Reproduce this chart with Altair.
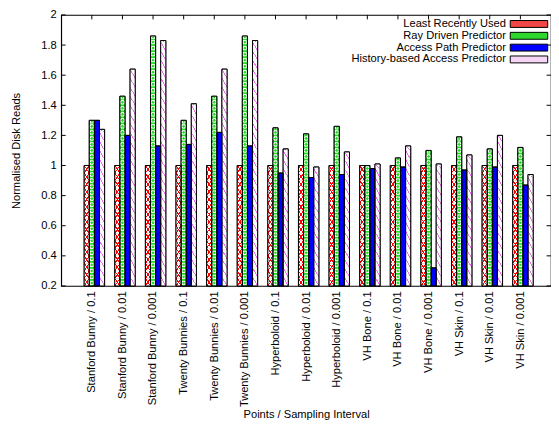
import json
import altair as alt
import pandas as pd

categories = [
    "Stanford Bunny / 0.1", "Stanford Bunny / 0.01", "Stanford Bunny / 0.001",
    "Twenty Bunnies / 0.1", "Twenty Bunnies / 0.01", "Twenty Bunnies / 0.001",
    "Hyperboloid / 0.1", "Hyperboloid / 0.01", "Hyperboloid / 0.001",
    "VH Bone / 0.1", "VH Bone / 0.01", "VH Bone / 0.001",
    "VH Skin / 0.1", "VH Skin / 0.01", "VH Skin / 0.001",
]
series = ["Least Recently Used", "Ray Driven Predictor",
          "Access Path Predictor", "History-based Access Predictor"]
lru = [1.00, 1.00, 1.00, 1.00, 1.00, 1.00, 1.00, 1.00, 1.00, 1.00, 1.00, 1.00, 1.00, 1.00, 1.00]
rdp = [1.30, 1.46, 1.86, 1.30, 1.46, 1.86, 1.25, 1.21, 1.26, 1.00, 1.05, 1.10, 1.19, 1.11, 1.12]
app = [1.30, 1.20, 1.13, 1.14, 1.22, 1.13, 0.95, 0.92, 0.94, 0.98, 0.99, 0.32, 0.97, 0.99, 0.87]
hap = [1.24, 1.64, 1.83, 1.41, 1.64, 1.83, 1.11, 0.99, 1.09, 1.01, 1.13, 1.01, 1.07, 1.20, 0.94]
y_ticks = [0.2, 0.4, 0.6, 0.8, 1.0, 1.2, 1.4, 1.6, 1.8, 2.0]

legend_colors = ["#f04848", "#2fd82f", "#0000ff", "#f6d6f6"]

rows = []
for j, vals in enumerate([lru, rdp, app, hap]):
    for i, v in enumerate(vals):
        rows.append({"cat": categories[i], "idx": i, "series": series[j], "j": j, "value": v})
df = pd.DataFrame(rows)

W, H = 497, 275
FONT = "Liberation Sans"
FS = 11.3

X_SCALE = alt.Scale(domain=[-1, 15], nice=False, zero=False)
Y_SCALE = alt.Scale(domain=[0.2, 2.0], nice=False, zero=False)

X_AXIS = alt.Axis(
    values=list(range(15)), labelExpr=json.dumps(categories) + "[datum.value]",
    labelAngle=270, labelPadding=5, ticks=False, domain=False, grid=False,
    labelOverlap=False, labelFlush=False,
    labelFont=FONT, labelFontSize=FS, labelColor="black",
    title="Points / Sampling Interval", titleFont=FONT, titleFontSize=FS,
    titleFontWeight="normal", titleColor="black", titleY=133, titleBaseline="alphabetic",
)
Y_AXIS = alt.Axis(
    values=y_ticks, format="~g", labelPadding=5, ticks=False, domain=False, grid=False,
    labelFont=FONT, labelFontSize=FS, labelColor="black",
    title="Normalised Disk Reads", titleFont=FONT, titleFontSize=FS,
    titleFontWeight="normal", titleColor="black", titleAngle=270,
    titleX=-45, titleY=H / 2, titleBaseline="middle", titleAlign="center",
)

LEGEND = alt.Legend(
    title=None, orient="none", legendX=469, legendY=3.5,
    symbolType="M-5.43,-1H5.43V1H-5.43Z", symbolSize=49,
    symbolStrokeColor="black", symbolStrokeWidth=1,
    labelFont=FONT, labelFontSize=FS, labelColor="black", labelLimit=400,
    labelAlign="right", labelOffset=alt.ExprRef(expr="-29"),
    rowPadding=alt.ExprRef(expr="-2"), padding=0,
)

XCALC = dict(x0="datum.idx + (datum.j - 1.5) / 6", x1="datum.idx + (datum.j - 0.5) / 6")


def stops(pairs):
    return [alt.GradientStop(offset=o, color=c) for o, c in pairs]


def band(bg, fg, lo, hi):
    e = 0.001
    return stops([(0, bg), (lo, bg), (lo + e, fg), (hi, fg), (hi + e, bg), (1, bg)])


grad_lru_a = alt.LinearGradient(gradient="linear", x1=0, y1=0, x2=1, y2=1,
                                stops=band("#ffffff", "#ff0000", 0.44, 0.56))
grad_lru_b = alt.LinearGradient(gradient="linear", x1=1, y1=0, x2=0, y2=1,
                                stops=band("rgba(255,255,255,0)", "#ff0000", 0.44, 0.56))
grad_hap = alt.LinearGradient(gradient="linear", x1=1, y1=0, x2=0, y2=1,
                              stops=band("#ffffff", "#f070f0", 0.45, 0.55))
GREEN = "#22dd22"
grad_rdp = alt.RadialGradient(
    gradient="radial", x1=0.5, y1=0.5, r1=0, x2=0.5, y2=0.5, r2=0.5,
    stops=stops([(0, GREEN), (0.42, GREEN), (0.47, "#ffffff"), (0.8, "#ffffff"),
                 (0.86, GREEN), (1, GREEN)]),
)

base = (
    alt.Chart(df)
    .transform_calculate(b="0.2", **XCALC)
    .mark_rect(stroke="black", strokeWidth=1)
    .encode(
        x=alt.X("x0:Q", scale=X_SCALE, axis=X_AXIS), x2="x1:Q",
        y=alt.Y("value:Q", scale=Y_SCALE, axis=Y_AXIS), y2="b:Q",
        fill=alt.Fill("series:N", scale=alt.Scale(domain=series, range=legend_colors),
                      legend=LEGEND),
    )
)


def tile_layer(name, T, grad):
    return (
        alt.Chart(df)
        .transform_filter(alt.datum.series == name)
        .transform_calculate(
            ks=f"sequence(0, ceil((datum.value - 0.2) / {T} - 1e-6))", **XCALC)
        .transform_flatten(["ks"], as_=["k"])
        .transform_calculate(
            t0=f"0.2 + datum.k * {T}",
            t1=f"min(0.2 + (datum.k + 1) * {T}, datum.value)")
        .mark_rect(fill=grad, strokeWidth=0)
        .encode(
            x=alt.X("x0:Q", scale=X_SCALE, axis=X_AXIS), x2="x1:Q",
            y=alt.Y("t1:Q", scale=Y_SCALE, axis=Y_AXIS), y2="t0:Q",
        )
    )


outline = (
    alt.Chart(df)
    .transform_calculate(b="0.2", **XCALC)
    .mark_rect(fillOpacity=0, stroke="black", strokeWidth=1)
    .encode(
        x=alt.X("x0:Q", scale=X_SCALE, axis=X_AXIS), x2="x1:Q",
        y=alt.Y("value:Q", scale=Y_SCALE, axis=Y_AXIS), y2="b:Q",
    )
)

yt_df = pd.DataFrame({"v": y_ticks})
left_ticks = alt.Chart(yt_df).mark_rule(color="black", strokeWidth=1).encode(
    y=alt.Y("v:Q", scale=Y_SCALE, axis=Y_AXIS), x=alt.value(0), x2=alt.value(4.5))
right_ticks = alt.Chart(yt_df).mark_rule(color="black", strokeWidth=1).encode(
    y=alt.Y("v:Q", scale=Y_SCALE, axis=Y_AXIS), x=alt.value(W - 4.5), x2=alt.value(W))
top_ticks = alt.Chart(pd.DataFrame({"i": list(range(15))})).mark_rule(
    color="black", strokeWidth=1).encode(
    x=alt.X("i:Q", scale=X_SCALE, axis=X_AXIS), y=alt.value(0), y2=alt.value(4.5))

chart = (
    alt.layer(
        base,
        tile_layer(series[0], 0.05, grad_lru_a),
        tile_layer(series[0], 0.05, grad_lru_b),
        tile_layer(series[1], 0.04, grad_rdp),
        tile_layer(series[3], 0.06, grad_hap),
        outline, left_ticks, right_ticks, top_ticks,
    )
    .properties(width=W, height=H, autosize="none",
                padding={"left": 54, "top": 4, "right": 0, "bottom": 136},
                background="white")
    .configure_view(stroke="black", strokeWidth=1.2)
)

chart.save("out.html", embed_options={"renderer": "svg", "actions": False})
